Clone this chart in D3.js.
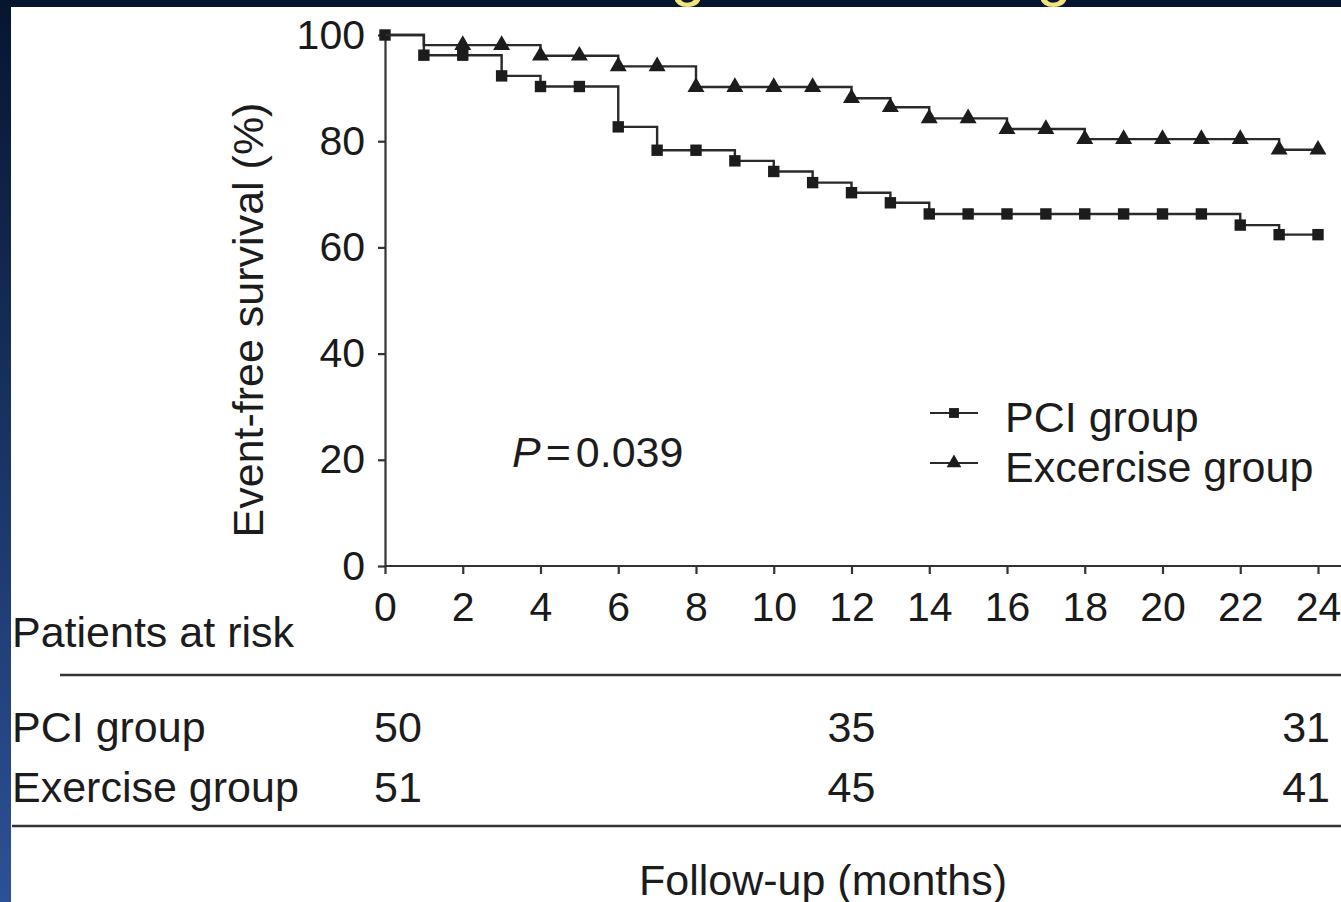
<!DOCTYPE html>
<html>
<head>
<meta charset="utf-8">
<script src="https://cdn.jsdelivr.net/npm/d3@7"></script>
<style>
  body { margin: 0; background: #fff; }
  svg { display: block; font-family: "Liberation Sans", Arial, sans-serif; }
  .axis text { font-size: 41px; fill: #1a1a1a; }
  .axis path, .axis line { stroke: #333; stroke-width: 2.2; }
</style>
</head>
<body>
<svg width="1341" height="902"></svg>
<script>
// follow-up months and survival (%)
var months = [0, 1, 2, 3, 4, 5, 6, 7, 8, 9, 10, 11, 12, 13, 14, 15, 16, 17, 18, 19, 20, 21, 22, 23, 24];
var pciSurv = [100, 96.2, 96.2, 92.3, 90.3, 90.3, 82.7, 78.3, 78.3, 76.3, 74.3, 72.2, 70.3, 68.4, 66.3,
  66.3, 66.3, 66.3, 66.3, 66.3, 66.3, 66.3, 64.2, 62.4, 62.4];
var exSurv = [100, 98.1, 98.1, 98.1, 96.1, 96.1, 94.1, 94.1, 90.2, 90.2, 90.2, 90.2, 88.1, 86.4, 84.3,
  84.3, 82.3, 82.3, 80.4, 80.4, 80.4, 80.4, 80.4, 78.4, 78.4];
// first month that carries a marker
var pciFirstMark = 0, exFirstMark = 2;

var xTicks = [0, 2, 4, 6, 8, 10, 12, 14, 16, 18, 20, 22, 24];
var yTicks = [0, 20, 40, 60, 80, 100];

var riskMonths = [0, 12, 24];
var pciRisk = [50, 35, 31];
var exRisk = [51, 45, 41];
var groupNames = ["PCI group", "Exercise group"];
var legendNames = ["PCI group", "Excercise group"];

var svg = d3.select("svg");
var W = 1341, H = 902;
var ink = "#1c1c1c";

// slide frame: dark band on top, gradient strip on the left
var defs = svg.append("defs");
var grad = defs.append("linearGradient").attr("id", "side").attr("x1", 0).attr("y1", 0).attr("x2", 0).attr("y2", 1);
grad.append("stop").attr("offset", "0%").attr("stop-color", "#061631");
grad.append("stop").attr("offset", "100%").attr("stop-color", "#2d5196");
svg.append("rect").attr("x", 0).attr("y", 0).attr("width", 11).attr("height", H).attr("fill", "url(#side)");
svg.append("rect").attr("x", 0).attr("y", 0).attr("width", W).attr("height", 7).attr("fill", "#061631");
// tails of the slide title, cut off at the top
svg.append("g").attr("fill", "#f6e27c").attr("font-size", 64)
  .selectAll("text").data([688, 1054]).enter().append("text")
  .attr("x", function (d) { return d; }).attr("y", -6).attr("text-anchor", "middle").text("g");

var x = d3.scaleLinear().domain([0, 24]).range([385, 1318]);
var y = d3.scaleLinear().domain([0, 100]).range([566, 35]);

svg.append("g").attr("class", "axis")
  .attr("transform", "translate(0,566)")
  .call(d3.axisBottom(x).tickValues(xTicks).tickSize(8).tickSizeOuter(0).tickPadding(18))
  .call(function (g) { g.select(".domain").attr("d", "M385,0H1341"); });

svg.append("g").attr("class", "axis")
  .attr("transform", "translate(385,0)")
  .call(d3.axisLeft(y).tickValues(yTicks).tickSize(7).tickSizeOuter(0).tickPadding(13));

svg.selectAll(".axis text").attr("font-family", null);

svg.append("text")
  .attr("transform", "translate(263,320) rotate(-90)")
  .attr("text-anchor", "middle").attr("font-size", 43).attr("fill", ink)
  .text("Event-free survival (%)");

// step curves
var line = d3.line()
  .x(function (d) { return x(d[0]); })
  .y(function (d) { return y(d[1]); })
  .curve(d3.curveStepAfter);

var series = [
  { vals: pciSurv, first: pciFirstMark, sym: d3.symbolSquare, size: 130 },
  { vals: exSurv, first: exFirstMark, sym: d3.symbolTriangle, size: 125 }
];

series.forEach(function (s) {
  var pts = months.map(function (m, i) { return [m, s.vals[i]]; });
  svg.append("path").attr("d", line(pts))
    .attr("fill", "none").attr("stroke", "#2a2a2a").attr("stroke-width", 2.4);
  svg.append("g").selectAll("path").data(pts.slice(s.first)).enter().append("path")
    .attr("transform", function (d) { return "translate(" + x(d[0]) + "," + y(d[1]) + ")"; })
    .attr("d", d3.symbol().type(s.sym).size(s.size))
    .attr("fill", ink);
});

// legend
var leg = svg.append("g").attr("transform", "translate(930,0)");
[413, 463].forEach(function (ly, i) {
  leg.append("line").attr("x1", 0).attr("x2", 48).attr("y1", ly).attr("y2", ly)
    .attr("stroke", "#2a2a2a").attr("stroke-width", 2);
  leg.append("path").attr("transform", "translate(24," + ly + ")")
    .attr("d", d3.symbol().type(series[i].sym).size(series[i].size * 0.75)).attr("fill", ink);
  leg.append("text").attr("x", 75).attr("y", ly + 19)
    .attr("font-size", 43).attr("fill", ink).text(legendNames[i]);
});

var pText = svg.append("text").attr("x", 512).attr("y", 467).attr("font-size", 43).attr("fill", ink);
pText.append("tspan").attr("font-style", "italic").text("P");
pText.append("tspan").attr("dx", 5).text("=");
pText.append("tspan").attr("dx", 5).text("0.039");

// patients at risk table
svg.append("text").attr("x", 12).attr("y", 647).attr("font-size", 43).attr("fill", ink).text("Patients at risk");
svg.append("line").attr("x1", 60).attr("x2", W).attr("y1", 675).attr("y2", 675).attr("stroke", "#333").attr("stroke-width", 2.5);
svg.append("line").attr("x1", 12).attr("x2", W).attr("y1", 826).attr("y2", 826).attr("stroke", "#333").attr("stroke-width", 2.5);

var rowY = [742, 802];
[pciRisk, exRisk].forEach(function (row, r) {
  svg.append("text").attr("x", 12).attr("y", rowY[r]).attr("font-size", 43).attr("fill", ink).text(groupNames[r]);
  riskMonths.forEach(function (m, j) {
    var anchor = j === 0 ? "start" : (j === riskMonths.length - 1 ? "end" : "middle");
    var off = j === 0 ? -11 : (j === riskMonths.length - 1 ? 12 : 0);
    svg.append("text").attr("x", x(m) + off).attr("y", rowY[r])
      .attr("text-anchor", anchor).attr("font-size", 43).attr("fill", ink).text(row[j]);
  });
});

svg.append("text").attr("x", 823).attr("y", 895).attr("text-anchor", "middle")
  .attr("font-size", 43).attr("fill", ink).text("Follow-up (months)");
</script>
</body>
</html>
